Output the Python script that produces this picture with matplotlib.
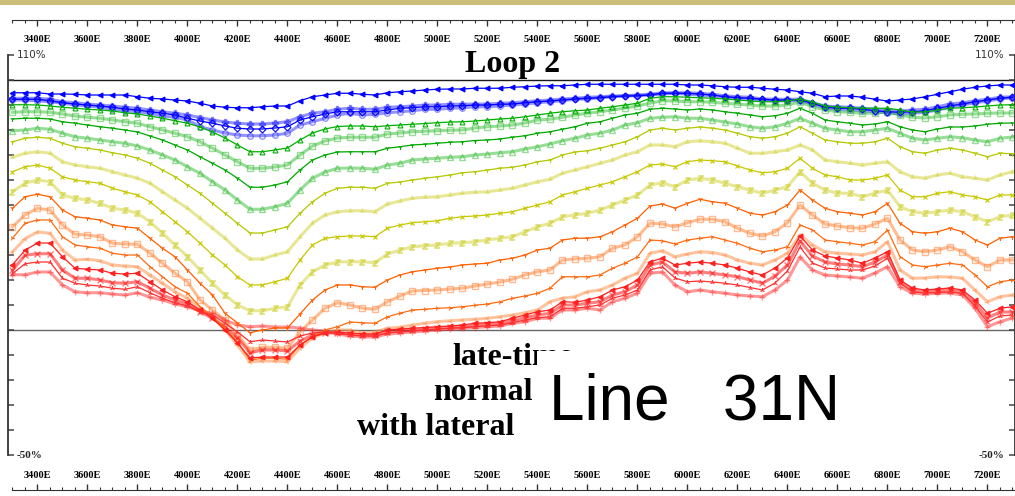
import matplotlib
matplotlib.use('Agg')
import matplotlib.pyplot as plt
from matplotlib.patches import Rectangle

W, H = 1015, 496

# station positions (every 50 m, 3300E .. 7300E)
stations = list(range(3300, 7301, 50))

# normalised late-time response (%) per channel
ch01 = [94.9, 94.9, 94.9, 94.4, 94.4, 94.3, 94.0, 94.0, 94.0, 94.0, 93.3, 92.7, 92.4, 92.0, 91.6, 90.7, 89.6, 89.1, 88.9, 88.9, 89.3, 89.6, 89.6, 91.7, 93.3, 94.0, 94.7,
        94.7, 94.3, 94.0, 94.9, 95.3, 95.6, 96.0, 96.3, 96.4, 96.4, 96.7, 96.7, 96.7, 97.1, 97.3, 97.6, 97.7, 97.7, 98.0, 98.3, 98.3, 98.3, 98.3, 98.3, 98.3, 98.3, 98.3,
        98.0, 98.0, 97.7, 97.3, 97.1, 97.1, 96.7, 96.3, 96.0, 95.3, 94.7, 93.3, 93.6, 93.6, 93.1, 92.3, 91.6, 92.0, 92.4, 93.3, 94.3, 95.3, 96.3, 97.1, 97.6, 98.0, 98.0]
ch02 = [92.7, 92.7, 92.7, 92.3, 91.3, 90.9, 90.4, 90.0, 89.6, 89.1, 88.7, 88.0, 87.3, 86.7, 86.0, 85.0, 84.0, 83.2, 82.7, 82.4, 82.4, 82.8, 83.3, 85.3, 86.7, 87.3, 88.3,
        88.7, 88.3, 88.3, 89.1, 89.3, 89.6, 90.0, 90.0, 90.3, 90.3, 90.4, 90.4, 90.7, 90.9, 91.3, 91.7, 92.0, 92.4, 92.7, 93.1, 93.3, 93.6, 93.7, 94.0, 94.3, 94.9, 94.9,
        94.9, 94.7, 94.3, 93.7, 93.3, 93.1, 92.4, 92.3, 92.3, 92.3, 90.9, 89.6, 89.3, 89.1, 88.7, 88.3, 88.0, 87.6, 88.0, 88.3, 89.3, 90.4, 90.9, 91.7, 92.3, 93.1, 93.3]
ch03 = [92.3, 92.3, 92.3, 91.7, 90.9, 90.4, 90.0, 89.6, 89.1, 88.4, 88.0, 87.3, 86.7, 86.0, 84.7, 83.6, 82.7, 81.6, 80.7, 80.4, 80.4, 80.8, 81.3, 84.0, 85.3, 86.4, 87.3,
        87.3, 87.3, 87.3, 88.0, 88.7, 88.9, 89.3, 89.3, 89.6, 89.7, 90.0, 90.0, 90.3, 90.4, 90.9, 91.3, 91.6, 92.0, 92.4, 92.7, 92.9, 93.3, 93.6, 93.7, 94.0, 94.7, 94.7,
        94.7, 94.4, 94.0, 93.3, 92.9, 92.7, 92.3, 92.0, 92.0, 92.0, 90.7, 89.1, 88.7, 88.7, 88.3, 87.7, 87.3, 87.1, 87.3, 87.7, 88.7, 89.6, 90.4, 91.3, 92.0, 92.7, 93.1]
ch04 = [92.0, 92.0, 91.7, 91.3, 90.7, 90.0, 89.6, 89.1, 88.3, 87.7, 87.3, 86.7, 85.6, 85.1, 84.0, 81.4, 80.0, 78.8, 78.0, 77.7, 77.7, 78.0, 78.7, 82.0, 83.3, 84.7, 86.0,
        86.7, 86.0, 86.3, 86.9, 87.3, 87.7, 88.3, 88.3, 88.7, 88.9, 89.3, 89.3, 89.6, 90.0, 90.4, 90.9, 91.3, 91.7, 92.3, 92.4, 92.9, 93.3, 93.6, 93.7, 94.0, 94.4, 94.7,
        94.3, 94.0, 93.6, 93.1, 92.7, 92.4, 92.0, 91.7, 91.7, 91.7, 90.4, 88.7, 88.3, 88.0, 87.7, 87.3, 86.9, 86.4, 86.7, 87.1, 88.0, 89.1, 90.0, 90.9, 91.6, 92.4, 92.9]
ch05 = [90.1, 90.1, 90.0, 89.6, 89.1, 88.7, 88.3, 88.0, 87.6, 86.9, 86.4, 85.6, 84.7, 83.7, 82.7, 81.2, 79.2, 76.8, 74.0, 71.3, 71.3, 72.0, 72.8, 76.0, 78.8, 80.4, 81.4,
        81.6, 81.6, 81.3, 81.7, 82.0, 82.3, 82.6, 82.9, 83.2, 83.3, 83.6, 84.0, 84.4, 84.7, 85.3, 86.0, 86.7, 87.3, 87.7, 88.0, 88.7, 89.3, 90.0, 90.7, 92.7, 93.3, 93.3,
        93.1, 92.9, 92.7, 92.4, 92.0, 91.6, 91.3, 91.3, 91.6, 92.4, 91.2, 89.6, 89.2, 88.9, 88.7, 88.7, 88.7, 88.0, 87.2, 87.2, 88.0, 88.7, 88.9, 89.2, 89.6, 90.0, 90.1]
ch06 = [87.1, 87.3, 87.3, 87.1, 86.4, 85.6, 85.1, 84.7, 84.0, 83.3, 82.7, 81.3, 80.0, 78.7, 77.3, 75.3, 72.7, 70.0, 67.3, 64.7, 64.7, 65.2, 66.0, 70.0, 73.6, 75.6, 76.8,
        77.1, 77.1, 77.1, 78.4, 78.8, 79.3, 79.5, 79.7, 79.9, 80.0, 80.8, 81.3, 81.6, 82.0, 82.8, 84.0, 84.3, 85.1, 86.0, 86.7, 87.3, 88.0, 88.8, 89.6, 90.7, 91.7, 91.6,
        91.3, 91.3, 91.1, 90.7, 90.3, 90.0, 89.6, 89.6, 90.0, 91.2, 89.3, 88.0, 87.3, 87.1, 86.7, 86.7, 87.2, 86.0, 85.1, 84.8, 85.3, 86.0, 86.3, 86.4, 86.7, 86.8, 86.8]
ch07 = [84.4, 84.7, 84.7, 84.4, 83.3, 82.7, 82.0, 81.3, 80.7, 80.0, 79.2, 77.6, 76.0, 74.0, 72.0, 69.3, 66.7, 64.0, 60.7, 57.1, 57.1, 58.0, 59.3, 64.0, 68.0, 70.0, 71.2,
        71.3, 71.3, 71.3, 72.7, 73.3, 74.0, 74.3, 74.7, 75.1, 75.3, 75.8, 76.0, 76.4, 77.1, 77.7, 78.7, 79.3, 80.3, 81.3, 82.7, 83.3, 84.7, 86.0, 86.7, 88.3, 88.7, 88.4,
        88.0, 88.4, 88.0, 87.3, 86.7, 86.0, 85.3, 85.7, 86.7, 88.7, 86.7, 84.0, 83.3, 82.7, 82.0, 82.4, 83.3, 81.3, 80.0, 79.3, 80.4, 81.2, 81.2, 81.6, 82.3, 82.7, 82.8]
ch08 = [79.7, 80.0, 80.7, 80.3, 78.7, 77.3, 76.7, 76.0, 75.3, 74.7, 73.6, 72.0, 70.0, 68.0, 65.3, 62.7, 59.3, 56.0, 52.0, 48.3, 48.3, 49.3, 50.7, 56.0, 60.7, 63.2, 64.7,
        64.8, 64.7, 64.3, 66.0, 66.7, 68.0, 68.4, 68.7, 69.1, 69.3, 70.0, 70.4, 70.9, 71.3, 72.4, 73.3, 74.4, 75.7, 76.7, 78.0, 78.7, 80.0, 82.0, 82.9, 84.7, 85.1, 85.3,
        84.7, 84.7, 84.0, 83.2, 82.4, 81.3, 80.7, 81.3, 82.7, 84.7, 82.7, 80.7, 80.0, 79.3, 79.3, 80.0, 80.7, 78.7, 76.7, 76.0, 76.7, 77.3, 76.9, 76.0, 75.3, 76.7, 77.2]
ch09 = [75.3, 76.7, 77.1, 76.7, 74.7, 73.3, 72.7, 72.0, 70.9, 70.0, 68.7, 66.7, 64.0, 61.3, 58.0, 54.7, 50.7, 46.7, 42.7, 38.8, 38.8, 40.0, 41.3, 46.7, 51.3, 54.7, 56.7,
        57.1, 57.1, 56.7, 58.7, 59.2, 60.0, 60.7, 61.3, 62.0, 62.9, 63.3, 64.0, 64.7, 65.1, 66.0, 67.3, 68.0, 70.0, 71.2, 71.7, 72.7, 74.0, 75.3, 77.3, 80.0, 80.7, 80.0,
        80.7, 81.2, 80.7, 80.0, 78.7, 77.3, 76.7, 77.3, 78.7, 81.3, 78.7, 76.0, 75.3, 74.7, 74.7, 75.3, 76.7, 73.3, 71.3, 70.7, 72.0, 72.7, 72.0, 70.7, 69.3, 70.7, 70.5]
ch10 = [69.1, 70.7, 71.3, 70.7, 67.3, 66.0, 65.3, 64.7, 63.3, 62.0, 60.7, 58.7, 55.3, 52.0, 48.7, 44.7, 40.7, 36.7, 32.0, 28.4, 28.4, 30.0, 31.3, 37.3, 42.7, 46.0, 47.3,
        47.7, 47.7, 47.3, 50.4, 51.6, 52.7, 53.1, 53.3, 54.0, 54.7, 55.1, 55.3, 56.0, 56.7, 58.0, 59.3, 60.3, 62.7, 64.0, 65.3, 66.7, 68.0, 70.0, 71.3, 74.0, 74.0, 73.3,
        75.3, 75.7, 75.3, 74.7, 72.7, 70.7, 70.7, 71.3, 72.0, 74.0, 72.0, 68.0, 67.3, 66.7, 66.0, 66.7, 67.3, 63.3, 61.3, 60.7, 62.0, 62.7, 61.3, 60.7, 60.0, 62.0, 63.3]
ch11 = [63.3, 65.3, 66.0, 64.7, 61.3, 60.0, 59.3, 58.7, 56.7, 55.3, 54.0, 51.3, 47.3, 43.3, 39.3, 34.7, 30.0, 26.0, 21.3, 18.0, 18.0, 19.3, 20.7, 28.0, 34.0, 36.7, 37.3,
        37.6, 37.6, 37.3, 40.7, 42.0, 42.9, 43.3, 43.7, 44.7, 45.3, 45.6, 46.0, 46.7, 47.3, 48.7, 50.0, 51.3, 54.0, 55.3, 56.7, 58.0, 59.3, 61.3, 63.3, 66.0, 66.4, 65.3,
        67.3, 68.0, 67.7, 67.3, 65.6, 64.0, 62.9, 63.3, 64.7, 68.7, 64.7, 62.0, 61.3, 60.0, 60.0, 60.7, 62.0, 56.0, 53.3, 53.3, 54.7, 55.3, 54.0, 53.3, 52.0, 54.0, 54.0]
ch12 = [55.3, 58.7, 60.0, 59.3, 54.0, 52.7, 52.0, 50.7, 48.7, 48.0, 46.7, 43.3, 38.7, 34.0, 29.3, 24.0, 18.7, 14.0, 10.0, 7.7, 7.7, 8.7, 9.3, 18.0, 23.3, 26.0, 27.2,
        27.3, 27.3, 26.9, 30.4, 32.0, 33.3, 33.7, 34.0, 34.7, 34.9, 35.3, 36.0, 36.7, 37.3, 39.3, 41.3, 42.7, 45.3, 46.0, 46.7, 48.0, 50.0, 52.0, 54.0, 58.0, 58.9, 57.3,
        60.0, 60.7, 60.0, 58.7, 57.3, 56.0, 54.7, 56.0, 57.3, 63.3, 58.7, 56.0, 54.7, 54.7, 53.3, 54.7, 56.0, 49.3, 47.3, 46.7, 47.3, 48.0, 47.3, 45.3, 43.3, 45.3, 46.0]
ch13 = [48.7, 53.3, 54.3, 53.3, 48.0, 45.3, 44.7, 44.0, 42.0, 41.3, 40.7, 36.7, 32.7, 29.3, 24.0, 18.7, 14.0, 6.7, 2.8, -1.1, 0.0, 0.8, 0.8, 6.4, 12.0, 16.0, 18.0,
        18.0, 17.3, 17.1, 20.0, 22.0, 23.3, 24.0, 24.7, 25.2, 26.0, 26.4, 26.7, 28.0, 28.7, 30.0, 32.0, 32.7, 36.0, 36.7, 36.7, 37.3, 39.3, 42.0, 44.7, 49.6, 50.4, 48.7,
        50.7, 52.3, 51.3, 50.7, 48.7, 46.7, 46.0, 47.3, 50.0, 56.0, 52.0, 48.7, 47.3, 46.7, 46.0, 47.3, 50.7, 42.7, 39.3, 38.7, 39.3, 40.7, 39.3, 36.0, 34.0, 36.7, 37.3]
ch14 = [41.3, 46.0, 48.7, 48.0, 42.0, 38.3, 38.0, 37.3, 34.7, 34.4, 34.3, 30.7, 26.7, 22.7, 19.3, 12.0, 8.0, 4.0, -2.0, -8.0, -6.9, -6.9, -7.3, -0.7, 4.0, 8.7, 10.9,
        10.0, 8.7, 8.3, 11.3, 13.6, 15.6, 15.8, 16.0, 16.4, 16.7, 17.6, 18.4, 19.2, 20.3, 22.0, 23.3, 24.0, 28.0, 28.4, 28.7, 29.3, 32.7, 34.0, 37.3, 42.7, 42.4, 41.3,
        42.9, 44.3, 44.3, 43.3, 40.7, 38.7, 37.6, 39.3, 42.9, 50.0, 46.0, 42.4, 41.6, 40.9, 40.7, 42.4, 44.7, 36.0, 32.0, 31.3, 32.0, 33.3, 31.3, 28.0, 25.3, 28.0, 28.0]
ch15 = [36.7, 42.7, 44.0, 44.0, 37.3, 34.0, 33.3, 32.7, 30.7, 30.0, 30.0, 25.3, 21.3, 17.3, 14.7, 9.3, 5.3, 0.8, -4.8, -12.0, -11.3, -11.3, -11.7, -6.0, -2.7, 0.0, 1.3,
        3.2, 2.9, 2.7, 5.3, 6.7, 8.0, 8.3, 8.7, 8.9, 9.3, 9.9, 10.4, 11.3, 12.7, 13.6, 14.7, 16.7, 21.3, 21.3, 21.3, 22.0, 24.7, 26.7, 29.3, 36.0, 35.7, 34.4,
        36.0, 36.7, 37.3, 36.0, 34.7, 32.7, 31.3, 32.0, 33.3, 42.0, 40.0, 36.0, 35.3, 34.7, 34.0, 35.3, 40.0, 29.3, 26.0, 25.3, 26.0, 26.7, 26.0, 22.0, 17.3, 19.3, 20.0]
ch16 = [31.3, 36.5, 39.2, 38.7, 32.0, 28.0, 28.3, 27.7, 26.0, 25.6, 25.3, 22.0, 18.7, 15.3, 12.7, 8.7, 5.3, 0.0, -6.0, -12.8, -12.4, -12.4, -12.7, -7.2, -3.2, -1.2, 0.0,
        0.0, -1.2, -0.8, 0.7, 1.1, 2.0, 2.7, 3.3, 3.7, 4.0, 4.3, 4.7, 5.3, 6.0, 6.9, 8.0, 11.3, 12.7, 13.3, 15.3, 16.0, 18.0, 20.7, 22.7, 30.7, 31.7, 29.3,
        30.4, 31.3, 31.0, 30.0, 28.0, 26.7, 26.0, 28.0, 30.7, 38.0, 34.0, 31.3, 30.7, 30.4, 30.0, 31.3, 35.3, 24.0, 20.7, 20.8, 21.3, 21.2, 20.7, 16.0, 11.3, 13.3, 14.0]
ch17 = [26.1, 31.9, 34.8, 34.8, 29.3, 24.7, 24.3, 24.0, 22.7, 22.4, 22.7, 19.3, 16.0, 13.3, 11.3, 8.0, 4.7, 0.0, -5.2, -11.2, -10.8, -10.8, -10.8, -6.0, -2.8, -1.2, -0.8,
        -1.2, -1.6, -1.6, 0.0, 0.4, 0.7, 1.0, 1.3, 1.6, 2.0, 2.7, 2.9, 3.3, 4.7, 6.0, 7.3, 8.0, 11.3, 11.1, 12.0, 13.3, 16.0, 17.3, 20.0, 27.3, 28.7, 26.0,
        26.7, 27.2, 26.7, 26.0, 24.7, 23.2, 22.0, 24.8, 28.8, 37.6, 32.0, 29.6, 28.8, 28.0, 26.7, 28.8, 31.3, 20.0, 16.8, 16.0, 16.4, 16.8, 16.0, 12.0, 6.7, 8.7, 9.3]
ch18 = [23.9, 29.9, 30.5, 30.5, 24.0, 20.7, 20.7, 20.0, 18.9, 18.7, 19.3, 16.7, 14.0, 12.0, 10.4, 7.3, 4.7, 1.3, -3.2, -9.1, -8.0, -8.0, -8.4, -4.4, -2.0, -1.2, -1.2,
        -1.6, -2.0, -2.0, -0.8, -0.2, 0.0, 0.4, 0.8, 1.1, 1.3, 2.0, 2.4, 2.7, 3.7, 4.9, 6.0, 6.7, 10.0, 10.0, 10.7, 11.3, 14.0, 15.3, 18.0, 26.0, 27.2, 23.2,
        22.7, 23.2, 22.7, 22.0, 21.3, 20.0, 18.7, 21.6, 26.0, 35.6, 29.6, 27.2, 26.4, 26.0, 25.3, 27.2, 30.0, 19.3, 16.0, 15.3, 15.6, 16.0, 15.2, 10.8, 4.8, 7.2, 7.2]
ch19 = [22.5, 26.5, 27.2, 27.2, 20.7, 18.7, 18.0, 17.6, 16.7, 16.3, 17.3, 14.9, 12.7, 10.9, 9.6, 7.3, 6.0, 2.7, -0.8, -4.7, -4.0, -4.4, -4.8, -2.4, -1.2, -0.8, -1.2,
        -2.0, -2.4, -2.4, -1.2, -0.8, -0.4, 0.0, 0.4, 0.7, 0.9, 1.3, 1.7, 2.0, 2.9, 4.0, 4.9, 5.3, 8.7, 8.7, 9.3, 10.0, 12.7, 14.0, 16.0, 24.0, 25.3, 20.8,
        19.3, 19.6, 19.2, 18.7, 18.0, 17.0, 16.0, 18.8, 23.6, 33.2, 26.8, 24.8, 24.4, 24.0, 24.0, 25.6, 28.7, 18.7, 15.3, 14.7, 15.0, 15.2, 14.7, 9.6, 3.2, 5.6, 6.0]
ch20 = [22.1, 22.1, 23.2, 23.2, 18.0, 15.3, 14.9, 14.9, 14.4, 14.0, 14.9, 13.1, 12.0, 10.4, 9.3, 7.6, 6.7, 4.0, 2.0, 1.3, 1.6, 1.2, 1.2, 0.8, 0.0, -0.4, -1.6,
        -2.4, -2.8, -2.8, -1.6, -1.2, -0.8, -0.4, 0.0, 0.3, 0.7, 1.0, 1.3, 1.6, 2.7, 3.3, 4.7, 4.7, 8.0, 8.0, 8.7, 8.0, 11.3, 12.7, 14.7, 22.7, 23.2, 18.0,
        15.3, 16.0, 15.3, 14.7, 14.0, 13.6, 13.3, 16.0, 20.0, 29.2, 24.0, 22.0, 21.6, 21.2, 20.7, 22.8, 25.3, 17.3, 14.7, 14.4, 14.7, 14.8, 14.0, 8.7, 1.3, 3.3, 4.8]

channels = [ch01, ch02, ch03, ch04, ch05, ch06, ch07, ch08, ch09, ch10,
            ch11, ch12, ch13, ch14, ch15, ch16, ch17, ch18, ch19, ch20]

ch_colors = ['#0000ff', '#2828ff', '#0000ff', '#2828ff',
             '#00b000', '#30bb30', '#00a800', '#30bb30',
             '#b4c800', '#d0d030', '#c8c800', '#d0d030',
             '#ff6000', '#ff7a28', '#ff6a10', '#ff8a40',
             '#ff2020', '#ff0000', '#ff3030', '#ff3030']
ch_markers = ['<', 'P', 'D', 'o', '^', 's', '1', '^', '1', '2',
              'x', '$z$', '1', 's', '4', '3', '<', 'x', '2', '+']
open_markers = ['o', 's', '^', 'D']

xtick_major = list(range(3400, 7201, 200))
xtick_minor = list(range(3300, 7301, 50))
y_ticks = list(range(-50, 111, 10))


def fx(px):
    return px / W


def fy(py):
    return 1 - py / H


fig = plt.figure(figsize=(W / 100, H / 100), dpi=100)

# gold strip at the very top
fig.add_artist(Rectangle((0, fy(5)), 1, 5 / H, transform=fig.transFigure,
                         facecolor='#cdbd7b', edgecolor='none', zorder=0))

# main profile axes (right frame edge falls just outside the picture)
ax = fig.add_axes([fx(7.5), fy(455), fx(1008), 400 / H])
ax.set_xlim(3280, 7312)
ax.set_ylim(-50, 110)
ax.patch.set_alpha(0)
for s in ['top', 'bottom']:
    ax.spines[s].set_visible(False)
for s in ['left', 'right']:
    ax.spines[s].set_color('#333333')
    ax.spines[s].set_linewidth(1.3)
ax.set_xticks([])
ax.set_yticks(y_ticks)
ax.tick_params(axis='y', direction='in', length=4.3, width=1.1, color='#444444',
               left=True, right=True, labelleft=False, labelright=False)

ax.axhline(100, color='#1a1a1a', lw=1.0, zorder=1)
ax.axhline(0, color='#666666', lw=1.0, zorder=1)

for i, vals in enumerate(channels):
    pale = (i % 2 == 1)
    m = ch_markers[i]
    mfc = 'none' if m in open_markers else ch_colors[i]
    if pale:
        ax.plot(stations, vals, color=ch_colors[i], lw=2.2, alpha=0.5,
                marker=m, ms=4, mew=1.0, mfc=mfc, zorder=2)
    else:
        ax.plot(stations, vals, color=ch_colors[i], lw=0.9,
                marker=m, ms=3.5, mew=0.8, mfc=mfc, zorder=3)

# station scales above and below the profile
tick_font = dict(fontfamily='Liberation Serif', fontweight='bold', fontsize=7.5)
for ypos, where, pad in [(20, 'bottom', 6.5), (491, 'top', 3)]:
    a = fig.add_axes([fx(7.5), fy(ypos), fx(1008), 1 / H])
    a.set_xlim(3280, 7312)
    a.patch.set_alpha(0)
    a.set_yticks([])
    for s in ['top', 'bottom', 'left', 'right']:
        a.spines[s].set_visible(s == where)
    a.spines[where].set_bounds(3300, 7310)
    a.spines[where].set_color('#333333')
    a.set_xticks(xtick_major)
    a.set_xticks(xtick_minor, minor=True)
    a.set_xticklabels([f'{v}E' for v in xtick_major], **tick_font)
    if where == 'top':
        a.xaxis.tick_top()
        a.xaxis.set_label_position('top')
    a.tick_params(axis='x', which='major', direction='out', length=4.5, width=1.0,
                  color='#333333', pad=pad)
    a.tick_params(axis='x', which='minor', direction='out', length=2.5, width=0.8,
                  color='#333333')

# scale labels
fig.text(fx(17), fy(55), '110%', ha='left', va='center', fontsize=7.5, color='#333333')
fig.text(fx(1004), fy(55), '110%', ha='right', va='center', fontsize=7.5, color='#333333')
fig.text(fx(17), fy(456), '-50%', ha='left', va='center', fontsize=8,
         fontfamily='Liberation Serif', fontweight='bold', color='#222222')
fig.text(fx(1004), fy(456), '-50%', ha='right', va='center', fontsize=8,
         fontfamily='Liberation Serif', fontweight='bold', color='#222222')

fig.text(fx(513), fy(72), 'Loop 2', ha='center', va='baseline', fontsize=23,
         fontfamily='Liberation Serif', fontweight='bold', color='black', zorder=5)

serif_bold = dict(fontfamily='Liberation Serif', fontweight='bold', fontsize=23,
                  color='black', va='baseline', ha='left', zorder=5)
fig.text(fx(452), fy(365), 'late-time', **serif_bold)
fig.text(fx(433), fy(400), 'normal', **serif_bold)
fig.text(fx(357), fy(435), 'with lateral', **serif_bold)

# white label panel that covers part of the caption
fig.add_artist(Rectangle((fx(537), fy(446)), fx(313), 95 / H, transform=fig.transFigure,
                         facecolor='white', edgecolor='none', zorder=6))
fig.text(fx(549), fy(420), 'Line   31N', ha='left', va='baseline', fontsize=46,
         fontfamily='Liberation Sans', color='black', zorder=7)

fig.savefig('out.png', dpi=100)
